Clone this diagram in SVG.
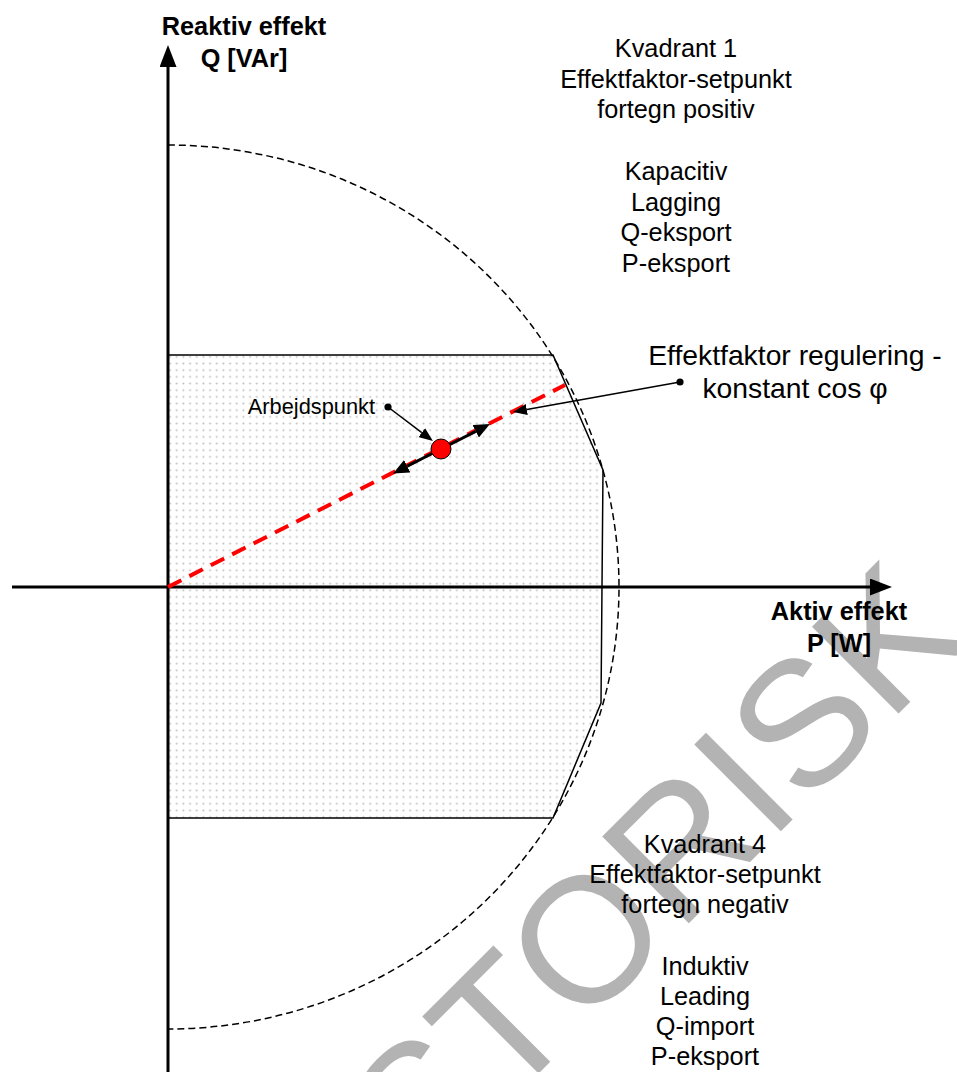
<svg xmlns="http://www.w3.org/2000/svg" width="957" height="1072" viewBox="0 0 957 1072">
  <style>
    .t { font-family: "Liberation Sans", Arial, sans-serif; fill: #000; }
    .q { font-size: 25.3px; text-anchor: middle; }
    .b { font-size: 25.3px; font-weight: bold; text-anchor: middle; }
    .axis { stroke: #000; stroke-width: 3; fill: none; }
    .thin { stroke: #000; stroke-width: 1.5; fill: none; }
  </style>
  <defs>
    <pattern id="dots" width="6.67" height="6.67" patternUnits="userSpaceOnUse">
      <rect width="6.67" height="6.67" fill="#ffffff"/>
      <circle cx="3.3" cy="3.3" r="1" fill="#bdbdbd"/>
    </pattern>
    <marker id="axArrow" markerUnits="userSpaceOnUse" markerWidth="22" markerHeight="17" refX="0" refY="8.5" orient="auto">
      <path d="M0,0 L22,8.5 L0,17 z" fill="#000"/>
    </marker>
    <marker id="smArrow" markerUnits="userSpaceOnUse" markerWidth="14" markerHeight="11" refX="0" refY="5.5" orient="auto">
      <path d="M0,0 L14,5.5 L0,11 z" fill="#000"/>
    </marker>
    <marker id="midArrow" markerUnits="userSpaceOnUse" markerWidth="16" markerHeight="14" refX="0" refY="7" orient="auto">
      <path d="M0,0 L16,7 L0,14 z" fill="#000"/>
    </marker>
    <marker id="dot" markerUnits="userSpaceOnUse" markerWidth="8" markerHeight="8" refX="4" refY="4">
      <circle cx="4" cy="4" r="3.6" fill="#000"/>
    </marker>
  </defs>

  <g id="operating-region">
    <polygon points="168,355 553,355 603,470 601,703 553,818 168,818" fill="url(#dots)" stroke="#000" stroke-width="1.5"/>
  </g>

  <g id="limit-circle">
    <path d="M168,145 A451,442 0 0 1 168,1029" fill="none" stroke="#000" stroke-width="1.5" stroke-dasharray="7 4"/>
  </g>

  <g id="watermark">
    <text class="t" x="0" y="0" transform="translate(422,1190) rotate(-45)" style="font-size:178px; fill:#b3b3b3;">STORISK</text>
  </g>

  <g id="axes">
    <line class="axis" x1="168" y1="1072" x2="168" y2="67" marker-end="url(#axArrow)"/>
    <line class="axis" x1="12" y1="587" x2="870" y2="587" marker-end="url(#axArrow)"/>
  </g>

  <g id="cos-phi-line">
    <line x1="168" y1="587" x2="565" y2="385" stroke="#ff0000" stroke-width="4" stroke-dasharray="15 9"/>
  </g>

  <g id="connectors">
    <line x1="449.9" y1="444.5" x2="475.7" y2="431.3" stroke="#000" stroke-width="3" marker-end="url(#midArrow)"/>
    <line x1="432.1" y1="453.5" x2="407.3" y2="466.2" stroke="#000" stroke-width="3" marker-end="url(#midArrow)"/>
    <line class="thin" x1="388" y1="407" x2="421.8" y2="432.6" marker-start="url(#dot)" marker-end="url(#smArrow)"/>
    <line class="thin" x1="680" y1="382" x2="526.8" y2="409.5" marker-start="url(#dot)" marker-end="url(#smArrow)"/>
  </g>

  <g id="operating-point">
    <circle cx="441" cy="449" r="10" fill="#ff0000" stroke="#000" stroke-width="1"/>
  </g>

  <g id="q-axis-label">
    <text class="t b" x="244" y="35">Reaktiv effekt</text>
    <text class="t b" x="244" y="67">Q [VAr]</text>
  </g>

  <g id="p-axis-label">
    <text class="t b" x="839" y="620">Aktiv effekt</text>
    <text class="t b" x="839" y="652">P [W]</text>
  </g>

  <g id="quadrant-1">
    <text class="t q" x="676" y="57">Kvadrant 1</text>
    <text class="t q" x="676" y="88">Effektfaktor-setpunkt</text>
    <text class="t q" x="676" y="118">fortegn positiv</text>
    <text class="t q" x="676" y="180">Kapacitiv</text>
    <text class="t q" x="676" y="211">Lagging</text>
    <text class="t q" x="676" y="241">Q-eksport</text>
    <text class="t q" x="676" y="272">P-eksport</text>
  </g>

  <g id="quadrant-4">
    <text class="t q" x="705" y="853">Kvadrant 4</text>
    <text class="t q" x="705" y="883">Effektfaktor-setpunkt</text>
    <text class="t q" x="705" y="913">fortegn negativ</text>
    <text class="t q" x="705" y="975">Induktiv</text>
    <text class="t q" x="705" y="1005">Leading</text>
    <text class="t q" x="705" y="1035">Q-import</text>
    <text class="t q" x="705" y="1065">P-eksport</text>
  </g>

  <g id="pf-control-label">
    <text class="t" x="795" y="365" style="font-size:28.3px; text-anchor:middle;">Effektfaktor regulering -</text>
    <text class="t" x="795" y="398" style="font-size:28.3px; text-anchor:middle;">konstant cos φ</text>
  </g>

  <g id="operating-point-label">
    <text class="t" x="375" y="414" style="font-size:21.8px; text-anchor:end;">Arbejdspunkt</text>
  </g>
</svg>
